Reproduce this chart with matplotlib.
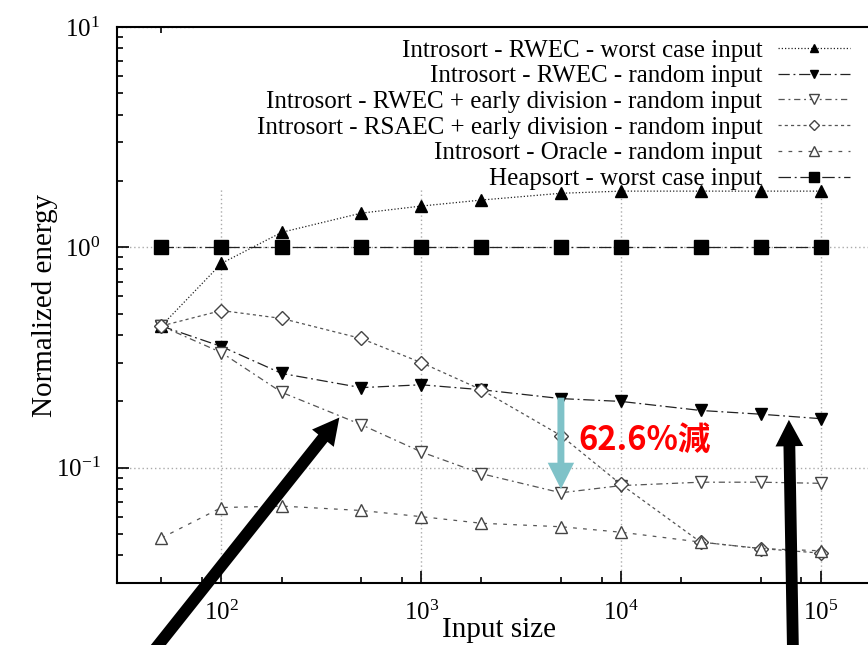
import matplotlib
matplotlib.use('Agg')
import matplotlib.pyplot as plt
from matplotlib.ticker import FixedLocator, NullFormatter, LogLocator
from matplotlib.patches import Rectangle

# Data
sizes = [50, 100, 200, 500, 1000, 2000, 5000, 10000, 25000, 50000, 100000]

rwec_worst = [0.44, 0.846, 1.17, 1.43, 1.54, 1.64, 1.76, 1.80, 1.80, 1.80, 1.80]
rwec_random = [0.44, 0.355, 0.268, 0.231, 0.238, 0.226, 0.206, 0.200, 0.182, 0.175, 0.167]
rwec_early = [0.44, 0.333, 0.220, 0.157, 0.118, 0.094, 0.077, 0.083, 0.086, 0.086, 0.085]
rsaec_early = [0.44, 0.517, 0.476, 0.386, 0.300, 0.226, 0.140, 0.084, 0.046, 0.043, 0.041]
oracle = [0.048, 0.066, 0.067, 0.064, 0.060, 0.056, 0.054, 0.051, 0.046, 0.043, 0.042]
heapsort = [1.0] * len(sizes)

labels = [
    'Introsort - RWEC - worst case input',
    'Introsort - RWEC - random input',
    'Introsort - RWEC + early division - random input',
    'Introsort - RSAEC + early division - random input',
    'Introsort - Oracle - random input',
    'Heapsort - worst case input',
]

plt.rcParams['font.family'] = ['Liberation Serif', 'DejaVu Serif']
plt.rcParams['axes.unicode_minus'] = False

fig = plt.figure(figsize=(8.68, 6.45), dpi=100, facecolor='white')
W, H = 868, 645
ax = fig.add_axes([117 / W, (H - 583) / H, (881 - 117) / W, (583 - 27) / H])
ax.set_xscale('log')
ax.set_yscale('log')
ax.set_xlim(30, 2e5)
ax.set_ylim(0.03, 10)

# series styles (gnuplot-like)
ax.plot(sizes, rwec_worst, color='#222222', lw=0.9, ls=(0, (1, 1.6)),
        marker='^', ms=8, mfc='black', mec='black', label=labels[0], zorder=3)
ax.plot(sizes, rwec_random, color='#222222', lw=0.9, ls=(0, (9, 3, 1.5, 3)),
        marker='v', ms=8, mfc='black', mec='black', label=labels[1], zorder=3)
ax.plot(sizes, rwec_early, color='#555555', lw=0.9, ls=(0, (5, 3, 1.5, 3)),
        marker='v', ms=9, mfc='white', mec='#444444', mew=1.0, label=labels[2], zorder=3)
ax.plot(sizes, rsaec_early, color='#555555', lw=0.9, ls=(0, (2.5, 2.5)),
        marker='D', ms=7, mfc='white', mec='#444444', mew=1.0, label=labels[3], zorder=3)
ax.plot(sizes, oracle, color='#555555', lw=0.9, ls=(0, (3, 5)),
        marker='^', ms=9, mfc='white', mec='#444444', mew=1.0, label=labels[4], zorder=3)
ax.plot(sizes, heapsort, color='#222222', lw=0.9, ls=(0, (10, 3, 1.5, 3)),
        marker='s', ms=10, mfc='black', mec='black', label=labels[5], zorder=3)

# grid (dotted, major only)
ax.xaxis.set_major_locator(FixedLocator([1e2, 1e3, 1e4, 1e5]))
ax.xaxis.set_minor_locator(FixedLocator([50, 80, 200, 500, 800, 2000, 5000, 8000,
                                         20000, 50000, 80000]))
ax.xaxis.set_minor_formatter(NullFormatter())
ax.yaxis.set_minor_locator(LogLocator(base=10, subs=range(2, 10)))
ax.yaxis.set_minor_formatter(NullFormatter())
ax.grid(True, which='major', color='#aaaaaa', ls=(0, (1, 2)), lw=1.0)
ax.set_axisbelow(True)

# opaque key area like gnuplot
ax.add_patch(Rectangle(((195 - 117) / 764, (583 - 189) / 556), 1, 1,
                       transform=ax.transAxes, facecolor='white', edgecolor='none', zorder=1))

ax.tick_params(which='both', direction='in', top=True, right=True, labelsize=18, width=1.2)
ax.tick_params(which='major', length=8.5)
ax.tick_params(which='minor', length=4.5)
ax.tick_params(axis='x', pad=13)
ax.tick_params(axis='y', pad=12)
for s in ax.spines.values():
    s.set_linewidth(1.5)

ax.set_xlabel('Input size', fontsize=21, labelpad=-6)
ax.set_ylabel('Normalized energy', fontsize=21, labelpad=-2)

ax.legend(loc='upper right', bbox_to_anchor=(850 / W, (H - 39) / H),
          bbox_transform=fig.transFigure, frameon=False, markerfirst=False,
          fontsize=18, markerscale=0.75, handlelength=2.9, handletextpad=0.6,
          labelspacing=0.13, borderpad=0, borderaxespad=0)

# reduction annotation
ax.annotate('', xy=(5000, 0.080), xytext=(5000, 0.208), xycoords='data',
            arrowprops=dict(width=5, headwidth=19, headlength=19, color='#7fc2c8', lw=0),
            zorder=5)
ax.text(6100, 0.133, '62.6%減', color='#ff0000', fontsize=23.5, fontweight='bold',
        ha='left', va='center', family=['Noto Sans CJK JP', 'DejaVu Sans'], zorder=5)

# black pointer arrows coming in from below
ax.annotate('', xy=(389, 0.169), xycoords='data', xytext=(152 / W, -8 / H),
            textcoords='figure fraction', annotation_clip=False,
            arrowprops=dict(width=8.5, headwidth=20, headlength=19, color='black', lw=0),
            zorder=6)
ax.annotate('', xy=(69200, 0.165), xycoords='data', xytext=(793 / W, -8 / H),
            textcoords='figure fraction', annotation_clip=False,
            arrowprops=dict(width=8.5, headwidth=20, headlength=19, color='black', lw=0),
            zorder=6)

plt.savefig('out.png', dpi=100, facecolor='white')
